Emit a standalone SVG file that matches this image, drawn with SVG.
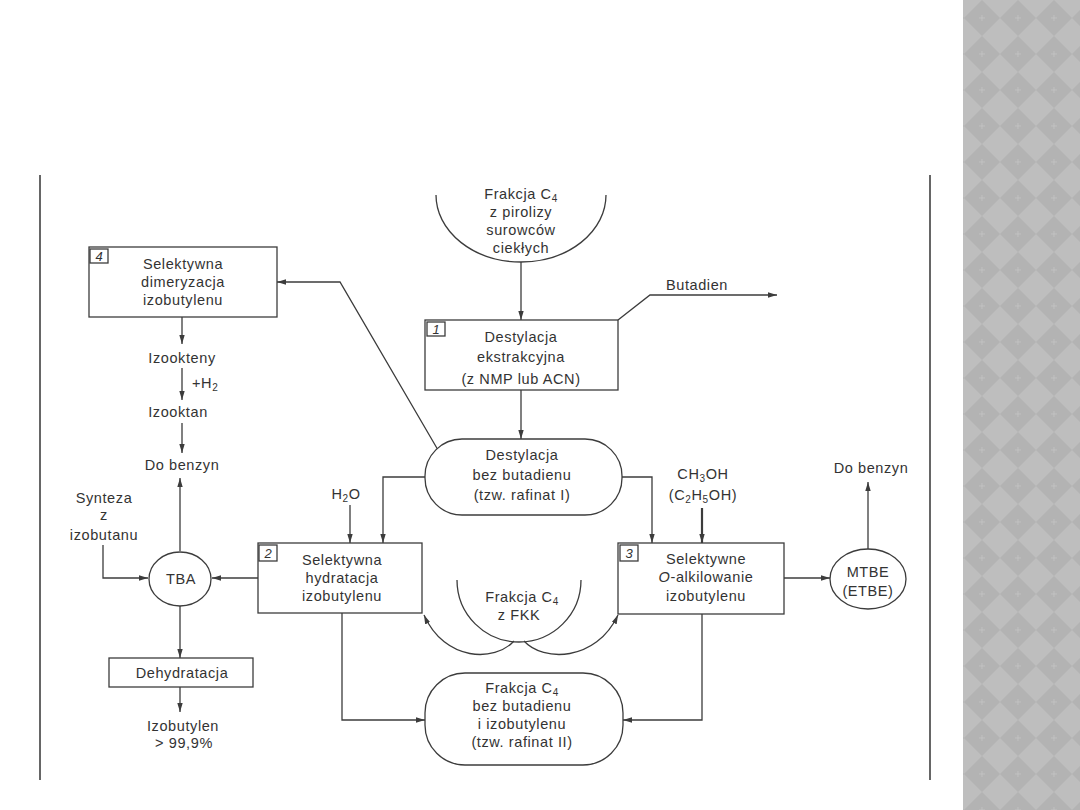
<svg xmlns="http://www.w3.org/2000/svg" width="1080" height="810" viewBox="0 0 1080 810">
<defs>
<style>
.t{font-family:"Liberation Sans",Arial,sans-serif;font-size:14.5px;letter-spacing:0.6px;fill:#333;text-anchor:middle}
.n{font-family:"Liberation Sans",Arial,sans-serif;font-size:13px;font-style:italic;fill:#333;text-anchor:middle}
.box{fill:#fff;stroke:#3c3c3c;stroke-width:1.3}
.ln{fill:none;stroke:#3c3c3c;stroke-width:1.3}
.ar{fill:none;stroke:#3c3c3c;stroke-width:1.3;marker-end:url(#ah)}
.frame{stroke:#333;stroke-width:1.5}
</style>
<marker id="ah" viewBox="0 0 10 6" refX="10" refY="3" markerWidth="9" markerHeight="5.4" markerUnits="userSpaceOnUse" orient="auto">
<path d="M0,0 L10,3 L0,6 Z" fill="#3c3c3c"/>
</marker>
<pattern id="diam" patternUnits="userSpaceOnUse" x="964" y="0" width="36" height="36">
<rect width="36" height="36" fill="#bebebe"/>
<polygon points="18,0 36,18 18,36 0,18" fill="#b3b3b3"/>
<path d="M18,15 V21 M15,18 H21" stroke="#c4c4c4" stroke-width="0.8"/>
</pattern>
</defs>
<rect width="1080" height="810" fill="#fff"/>
<rect x="963" y="0" width="117" height="810" fill="url(#diam)"/>
<line class="frame" x1="40" y1="175" x2="40" y2="780"/>
<line class="frame" x1="930" y1="175" x2="930" y2="780"/>

<g id="connectors">
<path class="ar" d="M521,262 V320"/>
<path class="ar" d="M618,320 L650,295 H777"/>
<path class="ar" d="M521,390 V439"/>
<path class="ar" d="M438,450 L340,282 H277"/>
<path class="ar" d="M182,317 V344"/>
<path class="ar" d="M182,368 V400"/>
<path class="ar" d="M182,423 V453"/>
<path class="ar" d="M180,551 V478"/>
<path class="ar" d="M103,545 V578 H148"/>
<path class="ar" d="M258,578 H212"/>
<path class="ar" d="M180,606 V658"/>
<path class="ar" d="M180,687 V712"/>
<path class="ar" d="M350,505 V543"/>
<path class="ar" d="M425,477 H383 V543"/>
<path class="ar" d="M622,477 H652 V543"/>
<path class="ar" d="M702,508 V543" style="stroke-width:2.2"/>
<path class="ar" d="M784,578 H830"/>
<path class="ar" d="M868,549 V482"/>
<path class="ar" d="M514,641 C495,662 445,662 424,615"/>
<path class="ar" d="M524,641 C543,662 596,662 618,615"/>
<path class="ar" d="M342,613 V720 H425"/>
<path class="ar" d="M702,614 V720 H623"/>
</g>

<g id="source-pyrolysis">
<path class="ln" d="M436,195 A85,67 0 0 0 606,195"/>
<text class="t" x="521" y="199">Frakcja C<tspan font-size="10" dy="3">4</tspan></text>
<text class="t" x="521" y="217">z pirolizy</text>
<text class="t" x="521" y="235">surowców</text>
<text class="t" x="521" y="253">ciekłych</text>
</g>

<g id="box1">
<rect class="box" x="425" y="320" width="193" height="70"/>
<rect class="box" x="427" y="322" width="18" height="14"/>
<text class="n" x="436" y="334">1</text>
<text class="t" x="521" y="342">Destylacja</text>
<text class="t" x="521" y="362">ekstrakcyjna</text>
<text class="t" x="521" y="384">(z NMP lub ACN)</text>
</g>

<g id="butadien">
<text class="t" x="697" y="290">Butadien</text>
</g>

<g id="raffinate1">
<rect class="box" x="425" y="439" width="197" height="76" rx="37" ry="37"/>
<text class="t" x="522" y="460">Destylacja</text>
<text class="t" x="522" y="480">bez butadienu</text>
<text class="t" x="522" y="500">(tzw. rafinat I)</text>
</g>

<g id="box4">
<rect class="box" x="89" y="247" width="188" height="70"/>
<rect class="box" x="90" y="249" width="18" height="14"/>
<text class="n" x="99" y="261">4</text>
<text class="t" x="183" y="269">Selektywna</text>
<text class="t" x="183" y="287">dimeryzacja</text>
<text class="t" x="183" y="305">izobutylenu</text>
</g>

<g id="izookteny"><text class="t" x="182" y="363">Izookteny</text></g>
<g id="h2"><text class="t" x="192" y="388" style="text-anchor:start">+H<tspan font-size="10" dy="3">2</tspan></text></g>
<g id="izooktan"><text class="t" x="178" y="417">Izooktan</text></g>
<g id="dobenzyn1"><text class="t" x="182" y="470">Do benzyn</text></g>

<g id="synteza">
<text class="t" x="104" y="503">Synteza</text>
<text class="t" x="104" y="520">z</text>
<text class="t" x="104" y="540">izobutanu</text>
</g>

<g id="tba">
<ellipse class="box" cx="180" cy="579" rx="31" ry="27"/>
<text class="t" x="181" y="584">TBA</text>
</g>

<g id="dehydratacja">
<rect class="box" x="109" y="658" width="144" height="29"/>
<text class="t" x="182" y="678">Dehydratacja</text>
</g>

<g id="izobutylen">
<text class="t" x="183" y="731">Izobutylen</text>
<text class="t" x="184" y="748">&gt; 99,9%</text>
</g>

<g id="h2o"><text class="t" x="346" y="499">H<tspan font-size="10" dy="3">2</tspan><tspan dy="-3">O</tspan></text></g>

<g id="box2">
<rect class="box" x="258" y="543" width="164" height="70"/>
<rect class="box" x="259" y="545" width="18" height="16"/>
<text class="n" x="268" y="558">2</text>
<text class="t" x="342" y="565">Selektywna</text>
<text class="t" x="342" y="583">hydratacja</text>
<text class="t" x="342" y="601">izobutylenu</text>
</g>

<g id="fkk">
<path class="ln" d="M457,580 A62,62 0 0 0 581,580"/>
<text class="t" x="522" y="602">Frakcja C<tspan font-size="10" dy="3">4</tspan></text>
<text class="t" x="519" y="620">z FKK</text>
</g>

<g id="methanol">
<text class="t" x="703" y="479">CH<tspan font-size="10" dy="3">3</tspan><tspan dy="-3">OH</tspan></text>
<text class="t" x="703" y="500">(C<tspan font-size="10" dy="3">2</tspan><tspan dy="-3">H</tspan><tspan font-size="10" dy="3">5</tspan><tspan dy="-3">OH)</tspan></text>
</g>

<g id="box3">
<rect class="box" x="618" y="543" width="166" height="71"/>
<rect class="box" x="620" y="545" width="18" height="16"/>
<text class="n" x="629" y="558">3</text>
<text class="t" x="706" y="564">Selektywne</text>
<text class="t" x="706" y="582"><tspan font-style="italic">O</tspan>-alkilowanie</text>
<text class="t" x="706" y="601">izobutylenu</text>
</g>

<g id="mtbe">
<ellipse class="box" cx="868" cy="579" rx="38" ry="30"/>
<text class="t" x="868" y="577">MTBE</text>
<text class="t" x="868" y="596">(ETBE)</text>
</g>

<g id="dobenzyn2"><text class="t" x="871" y="473">Do benzyn</text></g>

<g id="raffinate2">
<rect class="box" x="425" y="673" width="198" height="92" rx="40" ry="40"/>
<text class="t" x="522" y="693">Frakcja C<tspan font-size="10" dy="3">4</tspan></text>
<text class="t" x="522" y="711">bez butadienu</text>
<text class="t" x="522" y="729">i izobutylenu</text>
<text class="t" x="522" y="747">(tzw. rafinat II)</text>
</g>
</svg>
